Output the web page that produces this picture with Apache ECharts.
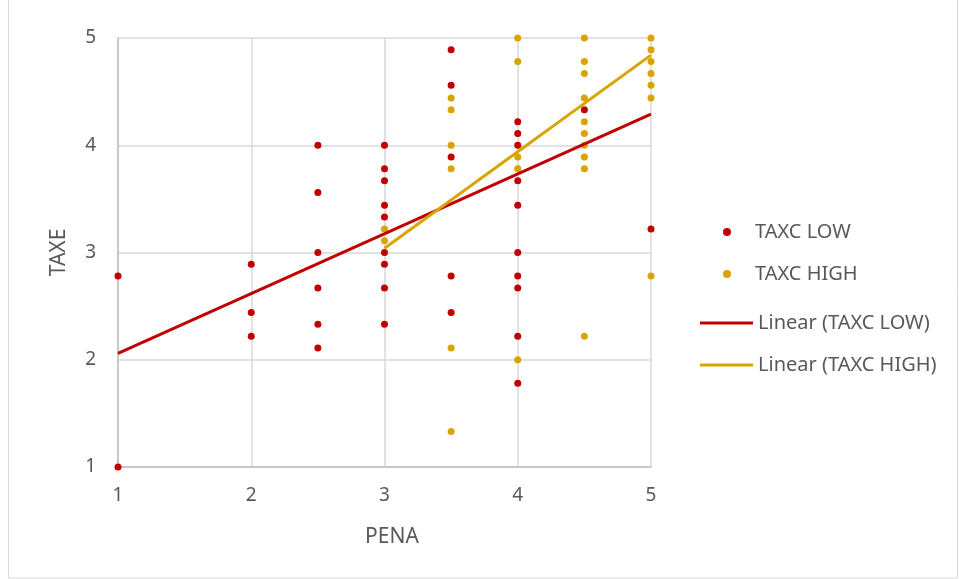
<!DOCTYPE html>
<html>
<head>
<meta charset="utf-8">
<script src="https://cdn.jsdelivr.net/npm/echarts@6/dist/echarts.min.js"></script>
<style>
html,body{margin:0;padding:0;background:#fff;}
#chart{width:959px;height:579px;}
</style>
</head>
<body>
<div id="chart"></div>
<script>
// TAXC LOW scatter points
var lowX = [1, 1,
  2, 2, 2,
  2.5, 2.5, 2.5, 2.5, 2.5, 2.5,
  3, 3, 3, 3, 3, 3, 3, 3, 3,
  3.5, 3.5, 3.5, 3.5, 3.5,
  4, 4, 4, 4, 4, 4, 4, 4, 4, 4,
  4.5,
  5];
var lowY = [2.78, 1.0,
  2.89, 2.44, 2.22,
  4.0, 3.56, 3.0, 2.67, 2.33, 2.11,
  4.0, 3.78, 3.67, 3.44, 3.33, 3.0, 2.89, 2.67, 2.33,
  4.89, 4.56, 3.89, 2.78, 2.44,
  4.22, 4.11, 4.0, 3.67, 3.44, 3.0, 2.78, 2.67, 2.22, 1.78,
  4.33,
  3.22];
// TAXC HIGH scatter points
var highX = [3, 3,
  3.5, 3.5, 3.5, 3.5, 3.5, 3.5,
  4, 4, 4, 4, 4,
  4.5, 4.5, 4.5, 4.5, 4.5, 4.5, 4.5, 4.5, 4.5, 4.5,
  5, 5, 5, 5, 5, 5, 5];
var highY = [3.22, 3.11,
  4.44, 4.33, 4.0, 3.78, 2.11, 1.33,
  5.0, 4.78, 3.89, 3.78, 2.0,
  5.0, 4.78, 4.67, 4.44, 4.22, 4.11, 4.0, 3.89, 3.78, 2.22,
  5.0, 4.89, 4.78, 4.67, 4.56, 4.44, 2.78];
// Linear trend lines (endpoints)
var trendLowX = [1, 5];
var trendLowY = [2.06, 4.29];
var trendHighX = [3, 5];
var trendHighY = [3.04, 4.84];
var xTicks = [1, 2, 3, 4, 5];
var yTicks = [1, 2, 3, 4, 5];

function zip(a, b) { return a.map(function (v, i) { return [v, b[i]]; }); }

var RED = '#C00000';
var GOLD = '#D9A300';
var TXT = '#595959';
var FONT = 'Noto Sans';

var chart = echarts.init(document.getElementById('chart'), null, {renderer: 'canvas'});
chart.setOption({
  backgroundColor: '#fff',
  animation: false,
  textStyle: {fontFamily: FONT},
  graphic: [{
    type: 'rect', silent: true,
    shape: {x: 8.5, y: -1, width: 949, height: 579},
    style: {fill: 'none', stroke: '#D9D9D9', lineWidth: 1}
  }],
  grid: {left: 118, right: 308, top: 38, bottom: 112, containLabel: false},
  xAxis: {
    type: 'value', min: xTicks[0], max: xTicks[xTicks.length - 1], interval: 1,
    name: 'PENA', nameLocation: 'middle', nameGap: 60,
    nameTextStyle: {color: TXT, fontSize: 21, fontFamily: FONT, padding: [0, 0, 0, 15]},
    axisLine: {show: true, onZero: false, lineStyle: {color: '#BFBFBF', width: 1.5}},
    axisTick: {show: false},
    axisLabel: {color: TXT, fontSize: 19, fontFamily: FONT, margin: 19},
    splitLine: {show: true, lineStyle: {color: '#D9D9D9', width: 1.5}}
  },
  yAxis: {
    type: 'value', min: yTicks[0], max: yTicks[yTicks.length - 1], interval: 1,
    name: 'TAXE', nameLocation: 'middle', nameGap: 48, nameRotate: 90,
    nameTextStyle: {color: TXT, fontSize: 21, fontFamily: FONT},
    axisLine: {show: true, onZero: false, lineStyle: {color: '#BFBFBF', width: 1.5}},
    axisTick: {show: false},
    axisLabel: {color: TXT, fontSize: 19, fontFamily: FONT, margin: 22},
    splitLine: {show: true, lineStyle: {color: '#D9D9D9', width: 1.5}}
  },
  legend: [{
    orient: 'vertical', left: 718, top: 217, itemWidth: 8, itemHeight: 8, itemGap: 22,
    icon: 'circle',
    data: ['TAXC LOW', 'TAXC HIGH'],
    textStyle: {color: TXT, fontSize: 20, fontFamily: FONT, padding: [0, 0, 0, 19]}
  }, {
    orient: 'vertical', left: 695, top: 308, itemWidth: 53, itemHeight: 3, itemGap: 22,
    icon: 'rect',
    data: ['Linear (TAXC LOW)', 'Linear (TAXC HIGH)'],
    textStyle: {color: TXT, fontSize: 20, fontFamily: FONT}
  }],
  series: [{
    name: 'TAXC LOW', type: 'scatter', symbolSize: 7,
    itemStyle: {color: RED, opacity: 1},
    data: zip(lowX, lowY), z: 2
  }, {
    name: 'TAXC HIGH', type: 'scatter', symbolSize: 7,
    itemStyle: {color: GOLD, opacity: 1},
    data: zip(highX, highY), z: 3
  }, {
    name: 'Linear (TAXC LOW)', type: 'line', showSymbol: false, symbol: 'none',
    lineStyle: {color: RED, width: 3}, itemStyle: {color: RED},
    data: zip(trendLowX, trendLowY), z: 4
  }, {
    name: 'Linear (TAXC HIGH)', type: 'line', showSymbol: false, symbol: 'none',
    lineStyle: {color: GOLD, width: 3}, itemStyle: {color: GOLD},
    data: zip(trendHighX, trendHighY), z: 5
  }]
});
</script>
</body>
</html>
